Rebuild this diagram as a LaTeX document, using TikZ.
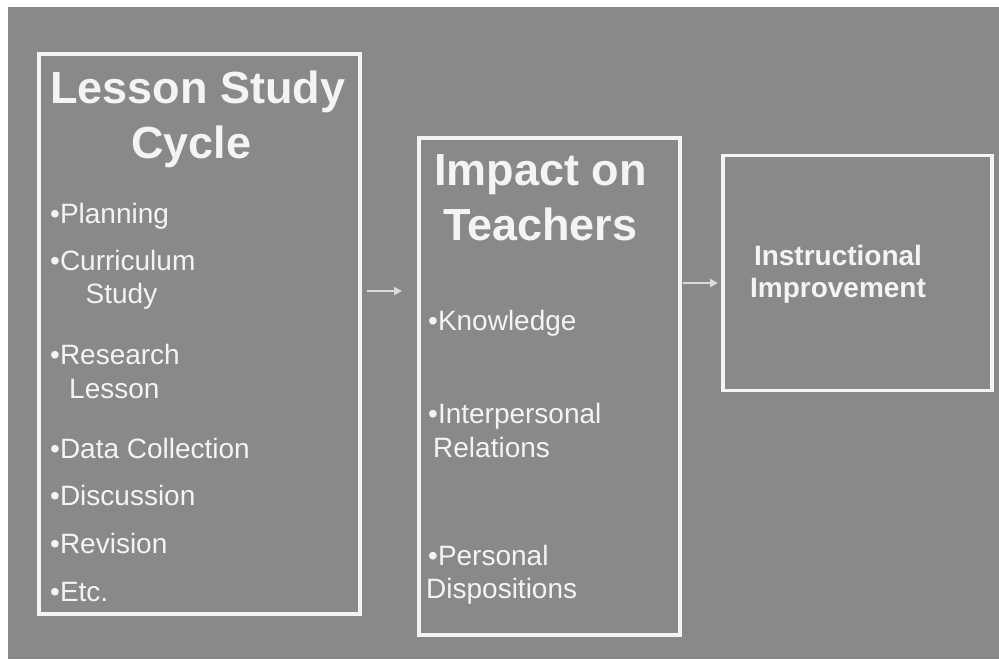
\documentclass[tikz,border=0pt]{standalone}
\usepackage{fontspec}
\setmainfont{Liberation Sans}
\usetikzlibrary{arrows.meta,calc}
\definecolor{bg}{HTML}{898989}
\definecolor{ln}{HTML}{F4F4F4}
\definecolor{ar}{HTML}{DCDCDC}
\begin{document}
\begin{tikzpicture}[x=1pt,y=-1pt,
  box/.style={draw=ln,line width=3.5pt,outer sep=0pt,inner sep=0pt,anchor=north west},
  ttl/.style={text=ln,font=\fontsize{45}{50}\selectfont\bfseries,inner sep=0pt,anchor=base west},
  itm/.style={text=ln,font=\fontsize{28}{33}\selectfont,inner sep=0pt,anchor=base west},
  res/.style={text=ln,font=\fontsize{28}{32}\selectfont\bfseries,inner sep=0pt,anchor=base},
  arr/.style={draw=ar,line width=2pt,-{Triangle[length=8pt,width=8pt]}}]
\useasboundingbox (0,0) rectangle (999,659);
\fill[white] (0,0) rectangle (999,659);
\fill[bg] (8,7) rectangle (999,659);
% boxes
\node[box,minimum width=321pt,minimum height=560pt] (b1) at (39,54) {};
\node[box,minimum width=261pt,minimum height=497pt] (b2) at (419,138) {};
\node[box,minimum width=269pt,minimum height=235pt] (b3) at (723,155.5) {};
% box 1 text
\node[ttl] (t1a) at (50,103) {Lesson Study};
\node[ttl] (t1b) at (131,158) {Cycle};
\node[itm] (i1) at (50,223) {•Planning};
\node[itm] (i2) at (50,270) {•Curriculum};
\node[itm] (i2b) at (85.5,303) {Study};
\node[itm] (i3) at (50,364) {•Research};
\node[itm] (i3b) at (69,398) {Lesson};
\node[itm] (i4) at (50,458) {•Data Collection};
\node[itm] (i5) at (50,505) {•Discussion};
\node[itm] (i6) at (50,553) {•Revision};
\node[itm] (i7) at (50,601) {•Etc.};
% box 2 text
\node[ttl] (t2a) at (434,185) {Impact on};
\node[ttl] (t2b) at (443,240) {Teachers};
\node[itm] (k1) at (428,330) {•Knowledge};
\node[itm] (k2) at (428,423) {•Interpersonal};
\node[itm] (k2b) at (433,457) {Relations};
\node[itm] (k3) at (428,565) {•Personal};
\node[itm] (k3b) at (426,598) {Dispositions};
% box 3 text
\node[res] (r1) at (838,265) {Instructional};
\node[res] (r2) at (838,297) {Improvement};
% arrows
\coordinate (y1) at (0,291);
\coordinate (y2) at (0,283);
\draw[arr,shorten <=7pt,shorten >=17pt] (b1.east |- y1) -- (b2.west |- y1);
\draw[arr,shorten <=3pt,shorten >=5pt] (b2.east |- y2) -- (b3.west |- y2);
\end{tikzpicture}
\end{document}
